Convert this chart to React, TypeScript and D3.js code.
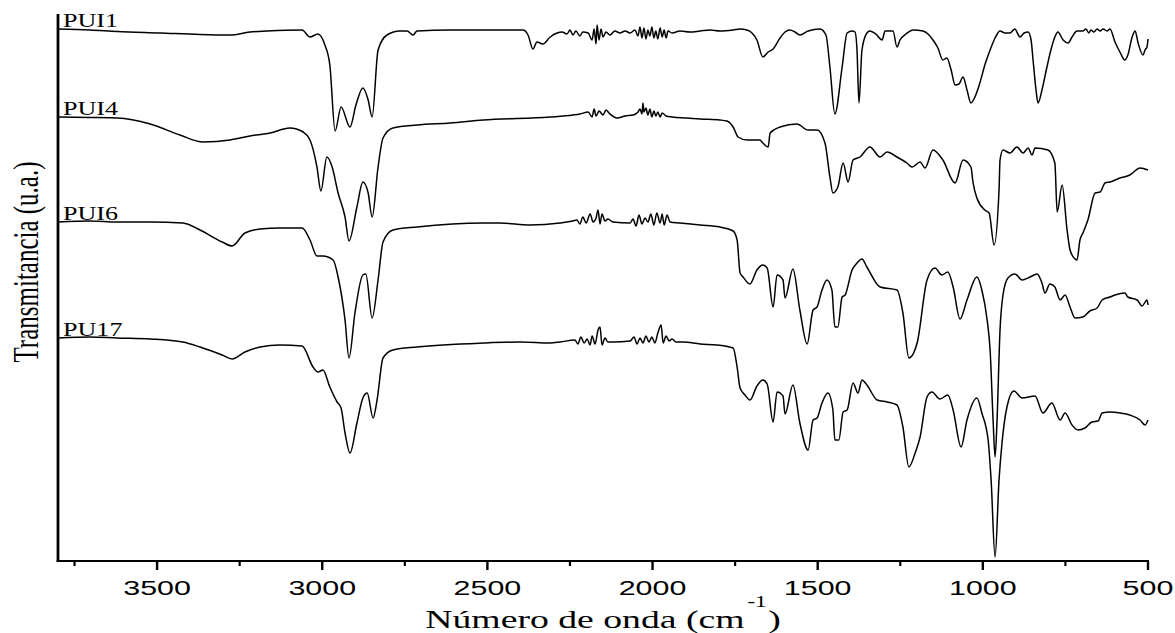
import React from 'react';
import * as d3 from 'd3';

type Pt = [number, number];

const SERIES_NAMES = ['PUI1', 'PUI4', 'PUI6', 'PU17'];

// [wavenumber (cm-1), transmittance (a.u., offset-stacked)]
const PUI1: Pt[] = [
  [3800,532],[3703,531],[3621,529.5],[3491,528],[3370,526.5],[3279,526],[3219,529],[3167,530],[3061,531],[3037,524],[3013,527],[2992,516],[2977,496],[2961,430],[2943,454],[2916,434],[2898,456],[2877,473],[2861,461],[2849,444],[2831,511],[2804,526],[2765,530],[2743,530],[2725,526],[2713,530],[2613,531],[2522,531],[2392,531],[2377,526],[2362,512],[2350,519],[2332,517],[2310,524],[2289,528],[2274,529],
  [2259,527],[2250,531],[2241,526],[2232,530],[2220,525],[2211,529],[2195,528],[2183,521],[2177,532],[2171,517],[2168,536],[2162,521],[2156,532],[2150,524],[2141,529],[2129,526],[2114,530],[2099,528],[2083,530],[2068,528],[2053,531],[2044,525],[2038,534],[2032,523],[2026,533],[2020,522],[2014,531],[2008,525],[2002,534],[1996,523],[1990,530],[1984,522],[1977,533],[1971,524],[1965,531],[1959,523],[1953,530],[1941,528],[1917,530],[1887,529],[1856,530],[1826,531],[1796,530],[1756,531],[1735,532],[1714,531],[1699,528],[1684,521],[1666,504],[1650,509],[1635,512],[1614,523],[1599,529],[1584,531],[1569,529],[1554,526],[1529,530],[1493,532],[1475,526],[1463,494],[1448,447],[1426,494],[1411,528],[1396,530],[1387,529],[1381,511],[1375,458],[1366,511],[1351,528],[1342,530],[1324,527],[1305,521],[1296,530],[1272,530],[1260,514],[1251,521],[1233,527],[1211,531],[1181,530],[1166,527],[1151,521],[1136,513],[1121,501],[1109,503],[1096,491],[1084,476],[1072,477],[1060,484],[1048,471],[1036,458],[1024,464],[1009,478],[994,496],[978,511],[963,523],[948,530],[933,528],[918,528],[903,532],[894,527],[888,524],[875,528],[863,529],[854,521],[848,501],[839,471],[833,458],[821,471],[806,494],[794,511],[782,524],[773,529],[757,521],[742,518],[730,524],[715,530],[697,530],[688,532],[679,528],[673,531],[664,529],[654,532],[645,530],[636,532],[624,530],[615,532],[600,519],[585,509],[570,501],[561,506],[548,524],[539,530],[530,518],[515,506],[509,511],[503,514],[500,522]
];

const PUI4: Pt[] = [
  [3800,444],[3703,443.5],[3621,443],[3521,437],[3431,426],[3361,419],[3279,421],[3219,425],[3158,428],[3098,433],[3058,429],[3037,421],[3016,394],[3004,370],[2986,404],[2970,394],[2952,368],[2931,344],[2919,320],[2895,354],[2877,379],[2861,368],[2849,344],[2831,394],[2816,423],[2786,433],[2713,436],[2613,438],[2513,441],[2310,444],[2241,446],
  [2220,447],[2195,449],[2183,444],[2177,452],[2171,445],[2162,450],[2150,446],[2141,451],[2129,447],[2108,443],[2083,445],[2059,446],[2044,449],[2038,452],[2032,447],[2029,458],[2026,449],[2020,453],[2014,446],[2008,452],[2002,444],[1996,450],[1990,445],[1984,449],[1977,444],[1971,448],[1959,445],[1941,444],[1896,443],[1856,442],[1796,441],[1775,440],[1756,434],[1741,424],[1714,421],[1675,421],[1666,418],[1650,414],[1644,428],[1614,434],[1563,437],[1529,431],[1502,431],[1478,418],[1463,384],[1454,368],[1439,374],[1423,398],[1408,379],[1393,401],[1372,404],[1342,414],[1311,404],[1290,409],[1260,404],[1230,398],[1214,394],[1190,399],[1175,393],[1151,411],[1121,401],[1084,378],[1060,401],[1036,394],[1030,379],[1018,363],[994,351],[981,348],[966,316],[951,371],[948,401],[939,411],[918,408],[897,414],[878,408],[863,413],[851,406],[842,413],[803,411],[782,398],[775,349],[760,376],[745,331],[736,311],[721,302],[715,301],[706,321],[697,328],[682,341],[660,368],[645,369],[630,378],[615,379],[585,383],[555,386],[524,393],[500,391]
];

const PUI6: Pt[] = [
  [3800,339],[3703,340],[3621,339],[3521,339],[3422,338],[3370,331],[3303,319],[3273,315],[3234,328],[3188,332],[3128,333],[3061,333],[3037,321],[3016,305],[2998,305],[2967,301],[2952,284],[2931,241],[2919,203],[2901,248],[2877,286],[2868,287],[2849,243],[2831,281],[2816,319],[2786,331],[2713,334],[2513,338],[2462,338],[2371,336],[2280,338],[2241,340],
  [2229,341],[2220,337],[2211,344],[2201,338],[2189,347],[2180,339],[2171,343],[2165,351],[2159,337],[2153,347],[2144,340],[2135,342],[2120,339],[2068,338],[2059,342],[2050,335],[2041,346],[2032,337],[2023,343],[2014,339],[2005,347],[1996,336],[1987,348],[1977,338],[1971,347],[1965,336],[1956,346],[1947,339],[1917,338],[1856,336],[1796,334],[1756,330],[1744,321],[1735,288],[1726,284],[1705,277],[1684,291],[1666,296],[1653,293],[1635,254],[1623,286],[1605,281],[1599,263],[1575,292],[1554,251],[1532,217],[1514,251],[1502,254],[1487,271],[1472,281],[1457,271],[1448,234],[1439,234],[1426,264],[1417,266],[1396,291],[1381,298],[1366,302],[1351,294],[1311,274],[1260,271],[1242,248],[1224,203],[1199,218],[1169,281],[1145,293],[1124,286],[1106,289],[1090,274],[1069,242],[1048,261],[1018,284],[1003,271],[987,241],[978,211],[969,141],[963,104],[957,141],[948,231],[939,266],[924,283],[903,287],[881,281],[857,284],[836,287],[821,278],[812,268],[797,277],[782,274],[766,261],[751,266],[736,254],[721,243],[697,244],[676,250],[654,253],[639,261],[615,264],[600,266],[570,268],[561,264],[533,261],[518,255],[503,261],[500,256]
];

const PU17: Pt[] = [
  [3800,223],[3703,224],[3621,223],[3521,222],[3422,219],[3370,214],[3303,206],[3273,202],[3234,209],[3188,214],[3128,216],[3061,215],[3028,194],[3013,189],[2998,191],[2977,174],[2955,159],[2943,153],[2931,128],[2916,108],[2895,138],[2877,163],[2864,168],[2846,143],[2834,161],[2816,203],[2786,211],[2713,214],[2513,218],[2401,219],[2310,218],[2280,219],
  [2235,221],[2226,217],[2217,224],[2207,218],[2198,222],[2189,216],[2183,225],[2174,217],[2165,231],[2159,234],[2153,216],[2144,223],[2135,219],[2120,219],[2068,220],[2056,224],[2047,217],[2038,223],[2029,218],[2020,225],[2011,219],[2002,224],[1993,218],[1984,228],[1974,236],[1968,218],[1959,225],[1950,220],[1941,222],[1929,219],[1908,219],[1856,217],[1805,216],[1756,213],[1744,194],[1735,173],[1720,166],[1705,161],[1684,175],[1666,181],[1653,177],[1635,139],[1623,169],[1605,165],[1599,147],[1575,176],[1554,138],[1529,111],[1514,141],[1502,143],[1487,158],[1469,168],[1454,151],[1448,121],[1436,121],[1423,149],[1411,151],[1393,178],[1378,168],[1366,181],[1351,176],[1320,161],[1290,159],[1260,156],[1242,134],[1224,94],[1205,108],[1190,124],[1169,164],[1154,169],[1130,162],[1106,166],[1090,151],[1066,114],[1048,141],[1018,163],[1003,148],[984,121],[975,81],[963,4],[951,81],[942,118],[927,154],[906,170],[881,163],[842,165],[818,148],[791,158],[766,141],[751,148],[730,136],[712,131],[691,133],[670,139],[651,140],[639,148],[615,149],[585,148],[555,146],[524,141],[509,136],[500,141]
];

const SERIES_DATA: Pt[][] = [PUI1, PUI4, PUI6, PU17];

const MAJOR_TICKS = [3500, 3000, 2500, 2000, 1500, 1000, 500];
const MINOR_TICKS = [3750, 3250, 2750, 2250, 1750, 1250, 750];
const X_DOMAIN = [3800, 500];
const Y_DOMAIN = [0, 547];

const X_TITLE = 'Número de onda (cm';
const X_TITLE_SUP = '-1';
const X_TITLE_END = ')';
const Y_TITLE = 'Transmitancia (u.a.)';

const STRETCH = 1.45;

export default function App() {
  const W = 1175, H = 633;
  const left = 58, right = 1148, top = 14, bottom = 561;
  const x = d3.scaleLinear().domain(X_DOMAIN).range([left, right]);
  const y = d3.scaleLinear().domain(Y_DOMAIN).range([bottom, top]);
  const line = d3.line<Pt>().x(d => x(d[0])).y(d => y(d[1])).curve(d3.curveMonotoneX);

  return (
    <svg width={W} height={H} viewBox={`0 0 ${W} ${H}`}
      style={{ position: 'absolute', left: 0, top: 0, background: '#fff' }}>
      <rect x={0} y={0} width={W} height={H} fill="#fff" />
      {SERIES_DATA.map((s, i) => (
        <path key={SERIES_NAMES[i]} d={line(s) || ''} fill="none" stroke="#000"
          strokeWidth={1.5} strokeLinejoin="round" />
      ))}
      {SERIES_DATA.map((s, i) => (
        <text key={'lab' + i}
          transform={`translate(${x(s[0][0]) + 5},${y(s[0][1]) - 2}) scale(${STRETCH},1)`}
          fontFamily="'Liberation Serif', 'Times New Roman', serif" fontSize={18} fill="#000">
          {SERIES_NAMES[i]}
        </text>
      ))}
      {/* axes */}
      <line x1={left} x2={left} y1={top} y2={bottom + 0.5} stroke="#000" strokeWidth={2.8} />
      <line x1={left - 1.4} x2={right + 1} y1={bottom} y2={bottom} stroke="#000" strokeWidth={1.8} />
      {MAJOR_TICKS.map(t => (
        <line key={'M' + t} x1={x(t)} x2={x(t)} y1={bottom} y2={bottom + 9} stroke="#000" strokeWidth={2.4} />
      ))}
      {MINOR_TICKS.map(t => (
        <line key={'m' + t} x1={x(t)} x2={x(t)} y1={bottom} y2={bottom + 5} stroke="#000" strokeWidth={2.2} />
      ))}
      {MAJOR_TICKS.map(t => (
        <text key={'t' + t} transform={`translate(${x(t)},595) scale(${STRETCH},1)`}
          textAnchor="middle" fontFamily="'Liberation Sans', Arial, sans-serif" fontSize={21} fill="#000">
          {t}
        </text>
      ))}
      <text transform={`translate(${(left + right) / 2},628) scale(${STRETCH},1)`} textAnchor="middle"
        fontFamily="'Liberation Serif', 'Times New Roman', serif" fontSize={26} fill="#000">
        {X_TITLE}
        <tspan dx={2} dy={-21} fontSize={16}>{X_TITLE_SUP}</tspan>
        <tspan dx={1} dy={21} fontSize={26}>{X_TITLE_END}</tspan>
      </text>
      <text transform={`translate(38,262) scale(${STRETCH},1) rotate(-90)`} textAnchor="middle"
        fontFamily="'Liberation Serif', 'Times New Roman', serif" fontSize={25} fill="#000">
        {Y_TITLE}
      </text>
    </svg>
  );
}
